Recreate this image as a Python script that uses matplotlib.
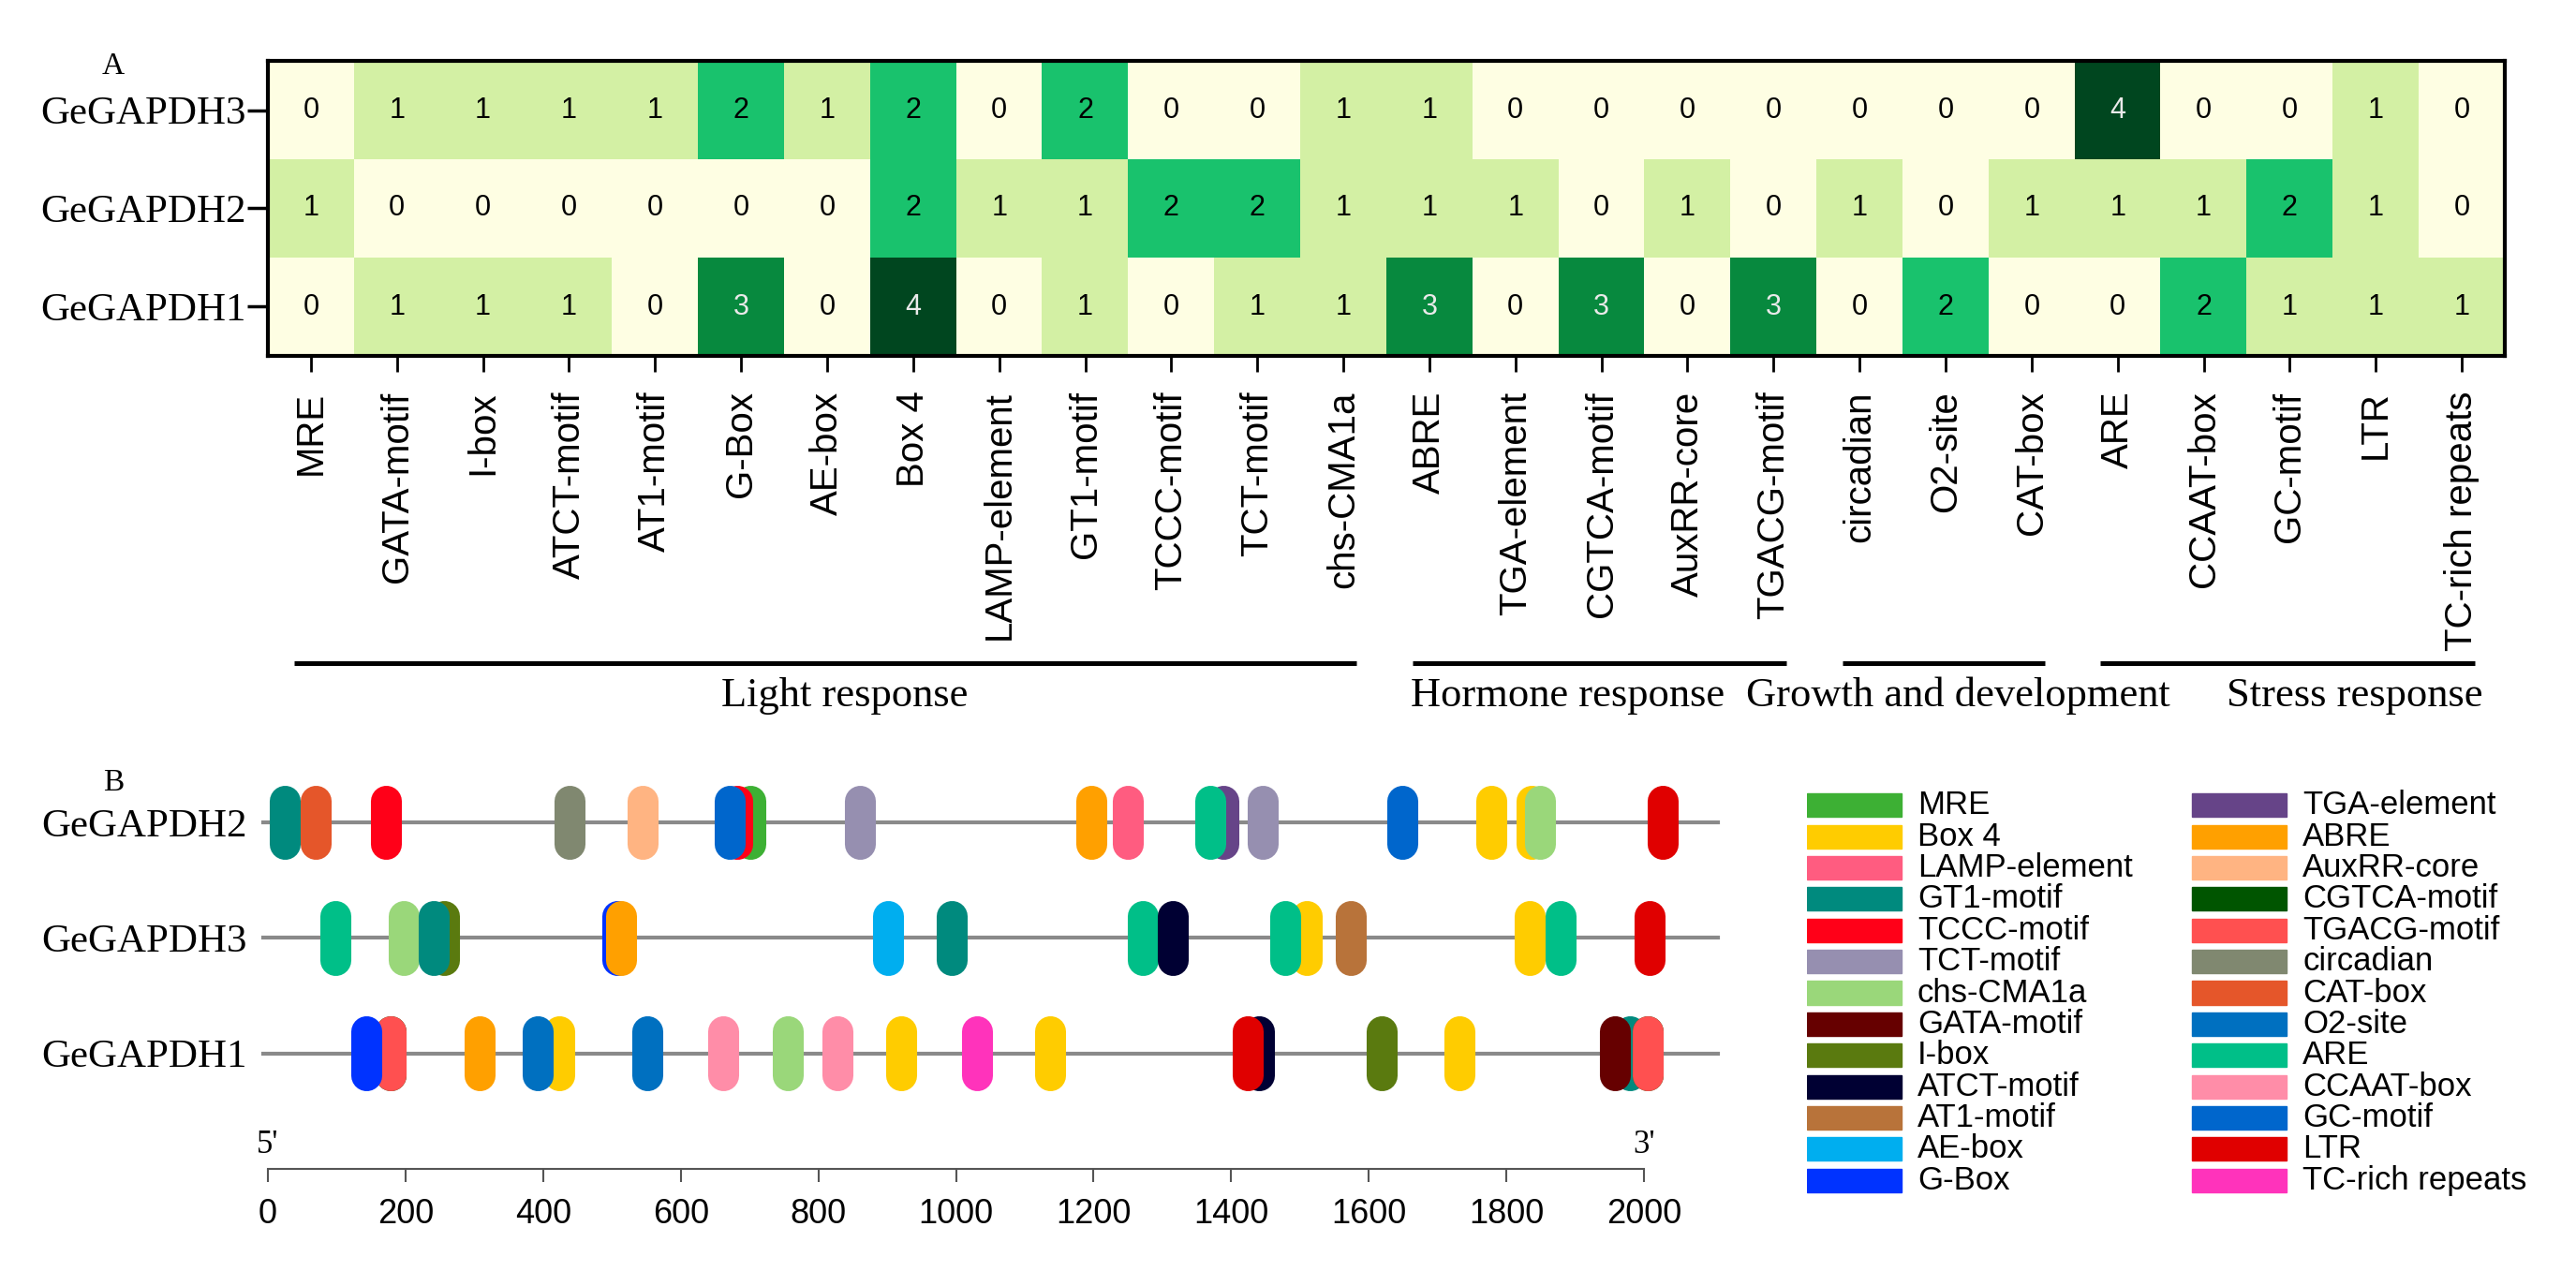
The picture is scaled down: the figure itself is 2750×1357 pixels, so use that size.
import numpy as np
import matplotlib
matplotlib.use('Agg')
import matplotlib.pyplot as plt
import matplotlib.transforms as mtransforms
from matplotlib.colors import ListedColormap, BoundaryNorm
from matplotlib.patches import Rectangle

SERIF = 'Liberation Serif'
SANS = 'Liberation Sans'

# ---------- A: cis-element counts ----------
ELEMENTS = ['MRE', 'GATA-motif', 'I-box', 'ATCT-motif', 'AT1-motif', 'G-Box', 'AE-box',
            'Box 4', 'LAMP-element', 'GT1-motif', 'TCCC-motif', 'TCT-motif', 'chs-CMA1a',
            'ABRE', 'TGA-element', 'CGTCA-motif', 'AuxRR-core', 'TGACG-motif',
            'circadian', 'O2-site', 'CAT-box',
            'ARE', 'CCAAT-box', 'GC-motif', 'LTR', 'TC-rich repeats']
GENES_A = ['GeGAPDH3', 'GeGAPDH2', 'GeGAPDH1']
COUNTS_GAPDH3 = [0, 1, 1, 1, 1, 2, 1, 2, 0, 2, 0, 0, 1, 1, 0, 0, 0, 0, 0, 0, 0, 4, 0, 0, 1, 0]
COUNTS_GAPDH2 = [1, 0, 0, 0, 0, 0, 0, 2, 1, 1, 2, 2, 1, 1, 1, 0, 1, 0, 1, 0, 1, 1, 1, 2, 1, 0]
COUNTS_GAPDH1 = [0, 1, 1, 1, 0, 3, 0, 4, 0, 1, 0, 1, 1, 3, 0, 3, 0, 3, 0, 2, 0, 0, 2, 1, 1, 1]

GROUPS = ['Light response', 'Hormone response', 'Growth and development', 'Stress response']
GROUP_FIRST = [0, 13, 18, 21]
GROUP_LAST = [12, 17, 20, 25]

COUNT_COLORS = ['#FEFEE3', '#D3F0A4', '#19C26D', '#07893E', '#00461F']

# ---------- B: element positions on promoters ----------
GENES_B = ['GeGAPDH2', 'GeGAPDH3', 'GeGAPDH1']
PROMOTER_START = -7
PROMOTER_END = 2108

# listed in drawing order (later ones lie on top)
GAPDH2_NAMES = ['GT1-motif', 'CAT-box', 'TCCC-motif', 'circadian', 'AuxRR-core', 'MRE',
                'TCCC-motif', 'GC-motif', 'TCT-motif', 'ABRE', 'LAMP-element', 'TGA-element',
                'ARE', 'TCT-motif', 'GC-motif', 'Box 4', 'Box 4', 'chs-CMA1a', 'LTR']
GAPDH2_POS = [25, 70, 171, 438, 544, 701, 682, 671, 861, 1197, 1250, 1389,
              1369, 1446, 1649, 1778, 1837, 1849, 2027]

GAPDH3_NAMES = ['ARE', 'chs-CMA1a', 'I-box', 'GT1-motif', 'G-Box', 'ABRE', 'AE-box',
                'GT1-motif', 'ARE', 'ATCT-motif', 'Box 4', 'ARE', 'AT1-motif', 'Box 4',
                'ARE', 'LTR']
GAPDH3_POS = [98, 197, 256, 241, 508, 513, 901, 994, 1272, 1315, 1510, 1478, 1574, 1834,
              1879, 2008]

GAPDH1_NAMES = ['CGTCA-motif', 'TGACG-motif', 'G-Box', 'ABRE', 'Box 4', 'O2-site', 'O2-site',
                'CCAAT-box', 'chs-CMA1a', 'CCAAT-box', 'Box 4', 'TC-rich repeats', 'Box 4',
                'ATCT-motif', 'LTR', 'I-box', 'Box 4', 'GT1-motif', 'GATA-motif',
                'CGTCA-motif', 'TGACG-motif']
GAPDH1_POS = [178, 178, 143, 308, 423, 392, 551, 662, 755, 828, 921, 1030, 1137,
              1441, 1424, 1619, 1732, 1979, 1958, 2005, 2005]

LEGEND_LEFT = ['MRE', 'Box 4', 'LAMP-element', 'GT1-motif', 'TCCC-motif', 'TCT-motif',
               'chs-CMA1a', 'GATA-motif', 'I-box', 'ATCT-motif', 'AT1-motif', 'AE-box', 'G-Box']
LEGEND_RIGHT = ['TGA-element', 'ABRE', 'AuxRR-core', 'CGTCA-motif', 'TGACG-motif', 'circadian',
                'CAT-box', 'O2-site', 'ARE', 'CCAAT-box', 'GC-motif', 'LTR', 'TC-rich repeats']

MOTIF_COLORS = {
    'MRE': '#3DB034', 'Box 4': '#FFCC00', 'LAMP-element': '#FF5C80', 'GT1-motif': '#008A7E',
    'TCCC-motif': '#FF0018', 'TCT-motif': '#968FB0', 'chs-CMA1a': '#9AD77A',
    'GATA-motif': '#660000', 'I-box': '#5A7A0F', 'ATCT-motif': '#000033',
    'AT1-motif': '#B8733A', 'AE-box': '#00AEEF', 'G-Box': '#0033FF',
    'TGA-element': '#664488', 'ABRE': '#FFA000', 'AuxRR-core': '#FFB482',
    'CGTCA-motif': '#005500', 'TGACG-motif': '#FF5050', 'circadian': '#808870',
    'CAT-box': '#E5562A', 'O2-site': '#0070C0', 'ARE': '#00BF88', 'CCAAT-box': '#FF8DA8',
    'GC-motif': '#0066CC', 'LTR': '#E00000', 'TC-rich repeats': '#FF33BB',
}

W, H = 2750, 1357


def fx(px):
    return px / W


def fy(py):
    return 1 - py / H


fig = plt.figure(figsize=(W / 100, H / 100), dpi=100)

# ================= panel A =================
counts = np.array([COUNTS_GAPDH3, COUNTS_GAPDH2, COUNTS_GAPDH1])
ax_a = fig.add_axes([fx(286), fy(380), fx(2674) - fx(286), fy(65) - fy(380)])
cmap = ListedColormap(COUNT_COLORS)
norm = BoundaryNorm(np.arange(-0.5, len(COUNT_COLORS) + 0.5, 1), cmap.N)
ax_a.imshow(counts, cmap=cmap, norm=norm, aspect='auto', interpolation='nearest')

for i in range(counts.shape[0]):
    for j in range(counts.shape[1]):
        v = counts[i, j]
        ax_a.text(j, i, str(v), ha='center', va='center', fontsize=22, family=SANS,
                  color='#EAEAEA' if v >= 3 else 'black')

ax_a.set_xticks(range(len(ELEMENTS)))
ax_a.set_xticklabels(ELEMENTS, rotation=90, fontsize=29, family=SANS)
ax_a.set_yticks(range(len(GENES_A)))
ax_a.set_yticklabels(GENES_A, fontsize=31, family=SERIF)
ax_a.tick_params(axis='x', length=12, width=2, pad=15)
ax_a.tick_params(axis='y', length=16, width=2.5, pad=1)
for sp in ax_a.spines.values():
    sp.set_linewidth(3)

# functional groups under the tick labels
trans = mtransforms.blended_transform_factory(ax_a.transData, fig.transFigure)
for first, last in zip(GROUP_FIRST, GROUP_LAST):
    ax_a.plot([first - 0.2, last + 0.15], [fy(708), fy(708)], color='black', lw=3.6,
              transform=trans, clip_on=False, solid_capstyle='butt')
label_x = [6.2, 12.78, 21.61, 23.75]
label_ha = ['center', 'left', 'right', 'center']
for name, x, ha in zip(GROUPS, label_x, label_ha):
    ax_a.text(x, fy(743), name, ha=ha, va='center', fontsize=32, family=SERIF,
              transform=trans)

fig.text(fx(121), fy(71), 'A', ha='center', va='center', fontsize=24, family=SERIF)
fig.text(fx(121), fy(836), 'B', ha='center', va='center', fontsize=24, family=SERIF)

# ================= panel B =================
x0_px, px_per_bp = 286, 0.7345
xmin, xmax = -25, 2150
ax_b = fig.add_axes([fx(x0_px + xmin * px_per_bp), fy(1248),
                     (xmax - xmin) * px_per_bp / W, fy(804) - fy(1248)])
ax_b.set_xlim(xmin, xmax)
ax_b.set_ylim(3, -0.6)

rows = [(GAPDH2_NAMES, GAPDH2_POS), (GAPDH3_NAMES, GAPDH3_POS), (GAPDH1_NAMES, GAPDH1_POS)]
for i, (names, pos) in enumerate(rows):
    ax_b.plot([PROMOTER_START, PROMOTER_END], [i, i], color='#8A8A8A', lw=3, zorder=1)
    for name, p in zip(names, pos):
        ax_b.plot([p, p], [i - 0.19, i + 0.19], color=MOTIF_COLORS[name], lw=23.8,
                  solid_capstyle='round', zorder=2)

ax_b.set_yticks(range(len(GENES_B)))
ax_b.set_yticklabels(GENES_B, fontsize=31, family=SERIF)
ax_b.tick_params(axis='y', length=0, pad=3)
for side in ['left', 'top', 'right']:
    ax_b.spines[side].set_visible(False)
ax_b.spines['bottom'].set_bounds(0, 2000)
ax_b.spines['bottom'].set_color('#555555')
ax_b.spines['bottom'].set_linewidth(1.5)
ax_b.set_xticks(range(0, 2001, 200))
ax_b.tick_params(axis='x', length=10, width=1.5, color='#555555', labelsize=26, pad=12)
for lab in ax_b.get_xticklabels():
    lab.set_family(SANS)
ax_b.text(0, 2.93, "5'", ha='center', va='bottom', fontsize=25, family=SERIF)
ax_b.text(2000, 2.93, "3'", ha='center', va='bottom', fontsize=25, family=SERIF)

# legend of element colours
ax_l = fig.add_axes([fx(1929), fy(1277), fx(2750) - fx(1929), fy(843) - fy(1277)])
ax_l.set_xlim(0, 821)
ax_l.set_ylim(12.5, -0.5)
ax_l.axis('off')
for c, col in enumerate([LEGEND_LEFT, LEGEND_RIGHT]):
    for i, name in enumerate(col):
        ax_l.add_patch(Rectangle((c * 411, i - 0.375), 101, 0.75, color=MOTIF_COLORS[name]))
        ax_l.text(c * 411 + 118, i, name, ha='left', va='center', fontsize=25, family=SANS)

fig.savefig('out.png', dpi=100)
